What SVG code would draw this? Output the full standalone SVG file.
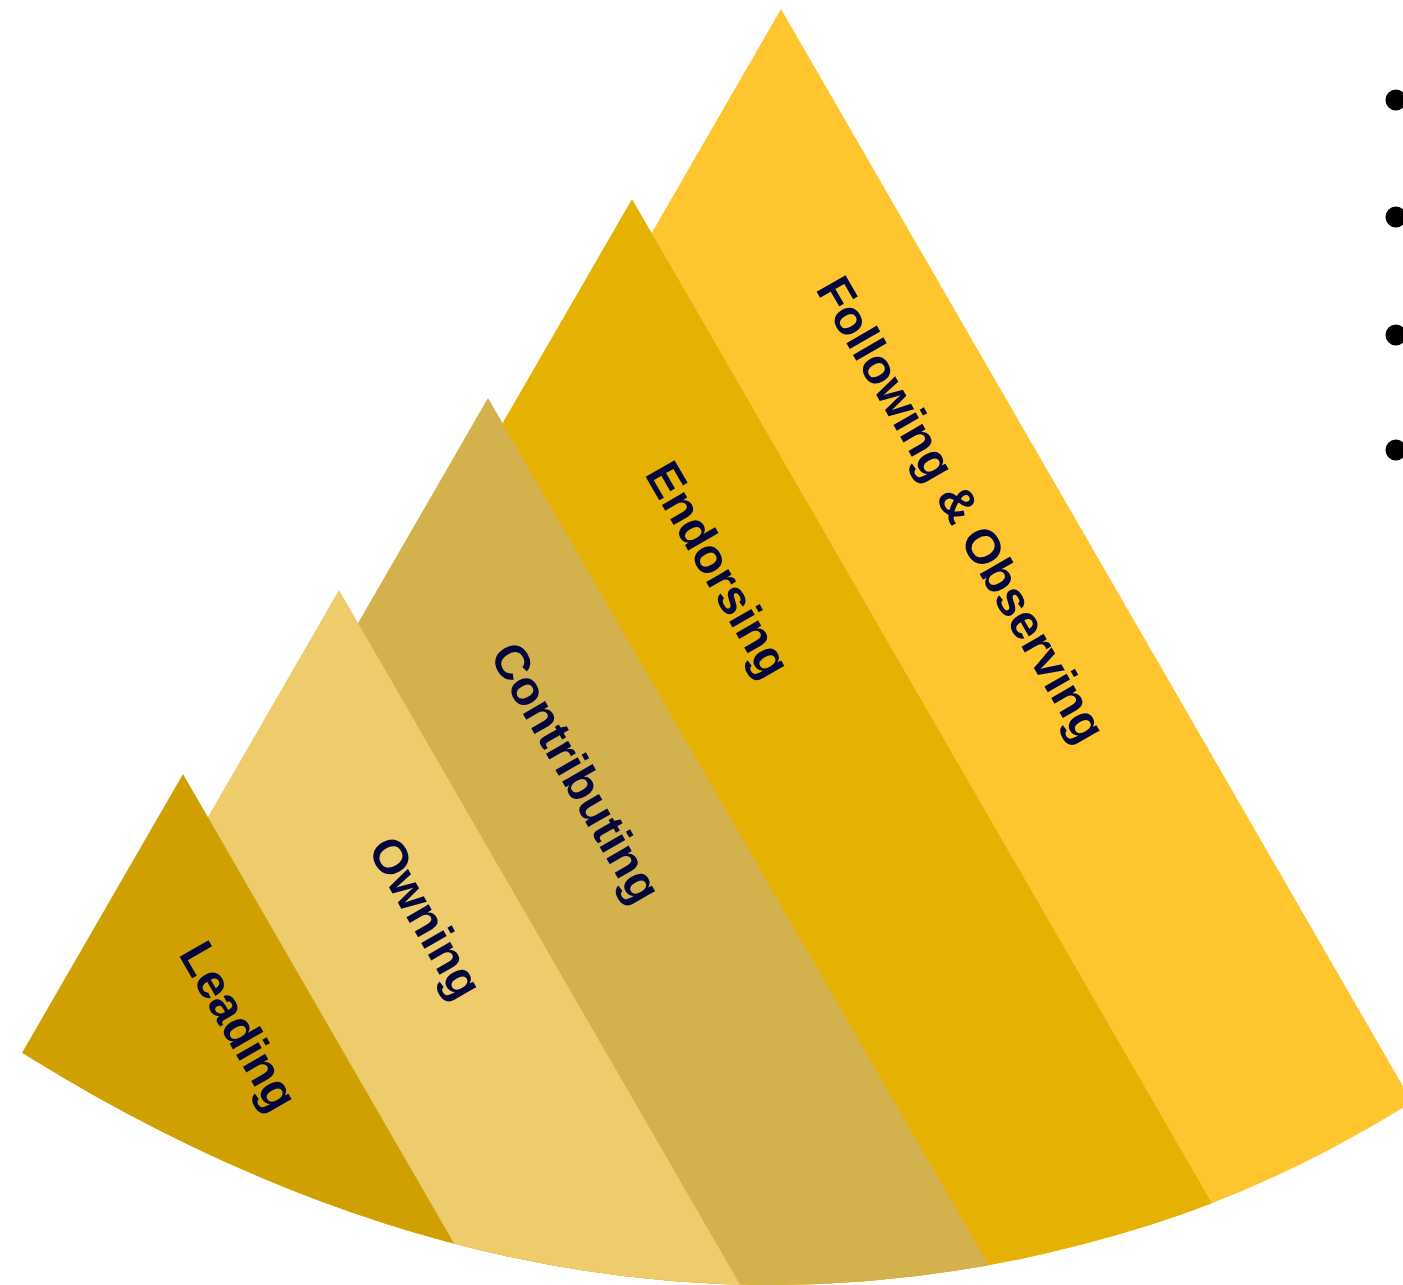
<svg xmlns="http://www.w3.org/2000/svg" width="1403" height="1285" viewBox="0 0 1403 1285">
  <style>
    .lbl { font-family: "Liberation Sans", Arial, sans-serif; font-weight: bold; font-size: 48.5px; fill: #03053b; }
    .dot { fill: #000000; }
  </style>
  <defs>
    <clipPath id="fan">
      <path d="M -10,1032.5 Q 570,1408 1150,1225.1 Q 1325,1169.9 1500,1042.7 L 1500,-10 L -10,-10 Z"/>
    </clipPath>
  </defs>
  <rect width="1403" height="1285" fill="#ffffff"/>
  <g clip-path="url(#fan)">
    <g id="following">
      <polygon points="781,9 35.6,1300 1526.4,1300" fill="#fec52e"/>
      <text class="lbl" transform="translate(815,289) rotate(60)">Following &amp; Observing</text>
    </g>
    <g id="endorsing">
      <polygon points="632,199 -3.7,1300 1267.7,1300" fill="#e5b204"/>
      <text class="lbl" transform="translate(644,474) rotate(60)">Endorsing</text>
    </g>
    <g id="contributing">
      <polygon points="488,398 -32.8,1300 1008.8,1300" fill="#d3b14d"/>
      <text class="lbl" transform="translate(489,655) rotate(60)">Contributing</text>
    </g>
    <g id="owning">
      <polygon points="339,590 -70.9,1300 748.9,1300" fill="#eecc6c"/>
      <text class="lbl" transform="translate(367,849) rotate(60)">Owning</text>
    </g>
    <g id="leading">
      <polygon points="183,774 -120.7,1300 486.7,1300" fill="#cfa000"/>
      <text class="lbl" transform="translate(178,954) rotate(60)">Leading</text>
    </g>
  </g>
  <g id="bullets">
    <circle class="dot" cx="1396" cy="100" r="10.5"/>
    <circle class="dot" cx="1396" cy="217" r="10.5"/>
    <circle class="dot" cx="1396" cy="335" r="10.5"/>
    <circle class="dot" cx="1396" cy="450" r="10.5"/>
  </g>
  <g id="connectors"/>
</svg>
